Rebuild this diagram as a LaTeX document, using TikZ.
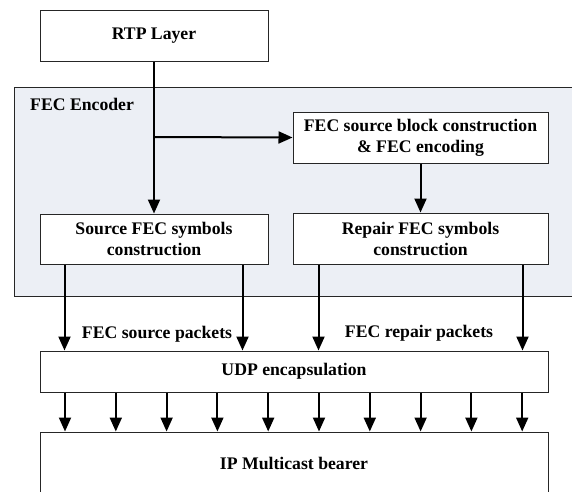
\documentclass[tikz,border=0pt]{standalone}
\usepackage{fontspec}
\setmainfont{Liberation Serif}
\usetikzlibrary{arrows.meta,shapes}
\definecolor{panelgray}{RGB}{236,239,245}
\tikzstyle{block}=[draw=black!85,line width=1pt,fill=white,inner sep=0pt,align=center,font=\bfseries\fontsize{17.7}{21}\selectfont]
\tikzstyle{panel}=[draw=black!85,line width=1pt,fill=panelgray,inner sep=0pt]
\tikzstyle{tag}=[inner sep=0pt,font=\bfseries\fontsize{17.7}{21}\selectfont]
\tikzstyle{link}=[draw,line width=2pt,-{Triangle[width=12pt,length=14pt]}]

\begin{document}
\begin{tikzpicture}[x=1pt,y=-1pt]
    \path[use as bounding box,clip] (0,0) rectangle (572,491);
    % The encoder panel first, the blocks on top of it
    \node[panel,minimum width=576pt,minimum height=209pt] (enc) at (302,191.5) {};
    \node[tag,anchor=west] (enclabel) at (30,104) {FEC Encoder};
    \node[block,minimum width=228pt,minimum height=51pt] (rtp) at (154,35.5) {RTP Layer};
    \node[block,minimum width=255pt,minimum height=51pt] (blk) at (420.5,137.5) {FEC source block construction\\ \& FEC encoding};
    \node[block,minimum width=228pt,minimum height=50pt] (src) at (154,239) {Source FEC symbols\\ construction};
    \node[block,minimum width=255pt,minimum height=51pt] (rep) at (420.5,238.5) {Repair FEC symbols\\ construction};
    \node[block,minimum width=508pt,minimum height=41pt] (udp) at (294,371.5) {UDP encapsulation};
    \node[block,minimum width=508pt,minimum height=90pt] (ip) at (294,477) {};
    \node[tag] (iplabel) at (294,463) {IP Multicast bearer};
    \node[tag] (srcpk) at (157,334) {FEC source packets};
    \node[tag] (reppk) at (419,333) {FEC repair packets};
    % Connect the blocks
    \coordinate (fork) at (154,137);
    \path[link] (rtp) -- (src);
    \path[link] (fork) -- (blk.west);
    \path[link] (blk) -- (rep);
    \foreach \shift in {25pt,203pt}
        \path[link] ([xshift=\shift]src.south west) -- ([xshift=\shift]src.south west |- udp.north);
    \foreach \shift in {26pt,230pt}
        \path[link] ([xshift=\shift]rep.south west) -- ([xshift=\shift]rep.south west |- udp.north);
    \foreach \i in {0,...,9} {
        \coordinate (x\i) at (65+50.8*\i,0);
        \path[link] (x\i |- udp.south) -- (x\i |- ip.north);
    }
\end{tikzpicture}
\end{document}
